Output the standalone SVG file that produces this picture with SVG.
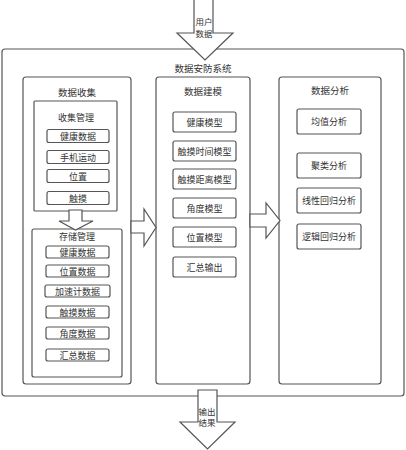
<svg xmlns="http://www.w3.org/2000/svg" width="406" height="450" viewBox="0 0 406 450">
<style>
.box{fill:#fff;stroke:#555;stroke-width:1.2}
.item{fill:#fff;stroke:#555;stroke-width:1.2}
.arr{fill:#fff;stroke:#555;stroke-width:1.2;stroke-linejoin:miter}
text{font-family:"Noto Sans CJK SC","Noto Sans",sans-serif;font-size:9px;fill:#333;text-anchor:middle;dominant-baseline:central}
.t{font-size:9.5px}
.s{font-size:8.5px}
</style>
<rect width="406" height="450" fill="#fff"/>
<g id="system">
<rect class="box" x="2" y="49" width="402" height="347" rx="3"/>
<text class="t" x="203" y="68">数据安防系统</text>
</g>
<g id="collect">
<rect class="box" x="23" y="77" width="108" height="307" rx="3"/>
<text class="t" x="77" y="92">数据收集</text>
</g>
<g id="collect-mgmt">
<rect class="box" x="34" y="101" width="83" height="110" rx="1"/>
<text x="76" y="117">收集管理</text>
<rect class="item" x="47" y="129.5" width="62" height="13" rx="2"/><text x="78" y="136">健康数据</text>
<rect class="item" x="47" y="150.5" width="62" height="13" rx="2"/><text x="78" y="157">手机运动</text>
<rect class="item" x="47" y="169.5" width="62" height="13" rx="2"/><text x="78" y="176">位置</text>
<rect class="item" x="47" y="191.5" width="62" height="13" rx="2"/><text x="78" y="198">触摸</text>
</g>
<g id="store-mgmt">
<rect class="box" x="32" y="229" width="90" height="148" rx="2"/>
<text x="77" y="236">存储管理</text>
<rect class="item" x="46" y="246" width="63" height="12" rx="2"/><text x="77.5" y="252">健康数据</text>
<rect class="item" x="46" y="265" width="63" height="12" rx="2"/><text x="77.5" y="271">位置数据</text>
<rect class="item" x="45" y="285" width="65" height="12" rx="2"/><text x="77.5" y="291">加速计数据</text>
<rect class="item" x="46" y="306" width="63" height="12" rx="2"/><text x="77.5" y="312">触摸数据</text>
<rect class="item" x="46" y="327" width="63" height="12" rx="2"/><text x="77.5" y="333">角度数据</text>
<rect class="item" x="46" y="349" width="63" height="12" rx="2"/><text x="77.5" y="355">汇总数据</text>
</g>
<g id="model">
<rect class="box" x="156" y="77" width="94" height="307" rx="3"/>
<text class="t" x="203" y="91">数据建模</text>
<rect class="item" x="173" y="112" width="63" height="20" rx="2"/><text x="204.5" y="122">健康模型</text>
<rect class="item" x="173" y="141" width="63" height="20" rx="2"/><text x="204.5" y="151">触摸时间模型</text>
<rect class="item" x="173" y="169" width="63" height="20" rx="2"/><text x="204.5" y="179">触摸距离模型</text>
<rect class="item" x="173" y="198" width="63" height="20" rx="2"/><text x="204.5" y="208">角度模型</text>
<rect class="item" x="173" y="227" width="63" height="20" rx="2"/><text x="204.5" y="237">位置模型</text>
<rect class="item" x="173" y="257" width="63" height="20" rx="2"/><text x="204.5" y="267">汇总输出</text>
</g>
<g id="analysis">
<rect class="box" x="279" y="77" width="102" height="307" rx="3"/>
<text class="t" x="330" y="90">数据分析</text>
<rect class="item" x="297" y="109" width="64" height="25" rx="2"/><text x="329" y="121.5">均值分析</text>
<rect class="item" x="297" y="153" width="64" height="25" rx="2"/><text x="329" y="165.5">聚类分析</text>
<rect class="item" x="297" y="188" width="64" height="25" rx="2"/><text x="329" y="200.5">线性回归分析</text>
<rect class="item" x="297" y="224" width="64" height="25" rx="2"/><text x="329" y="236.5">逻辑回归分析</text>
</g>
<g id="connectors">
<polygon class="arr" points="194,-1 213,-1 213,33 233,33 205,60 177,33 194,33"/>
<text class="s" x="204" y="21">用户</text>
<text class="s" x="204" y="32.5">数据</text>
<polygon class="arr" points="69,210 82,210 82,221 93,221 75.5,230 59,221 69,221"/>
<polygon class="arr" points="131,221 144,221 144,209 156,227.5 144,246 144,233 131,233"/>
<polygon class="arr" points="250,214 266,214 266,203 280,220.5 266,238 266,227 250,227"/>
<polygon class="arr" points="198,390 217,390 217,422 235,422 207.5,449 180,422 198,422"/>
<text class="s" x="207" y="410.5">输出</text>
<text class="s" x="207" y="422">结果</text>
</g>
</svg>
